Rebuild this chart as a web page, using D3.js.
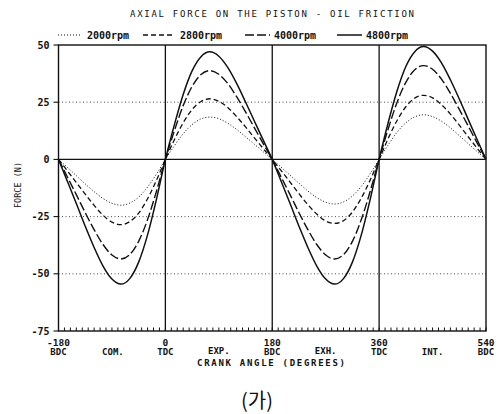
<!DOCTYPE html>
<html><head><meta charset="utf-8">
<script src="https://cdn.jsdelivr.net/npm/d3@7"></script>
<style>
body{margin:0;background:#fff;}
svg{display:block;}
text{fill:#111;}
</style></head>
<body>
<svg id="c" width="501" height="414"></svg>
<script>
// ---- data ----
const angles = d3.range(-180, 541, 15); // crank angle (deg) sample points
const rpm2000 = [0,-3.5,-7.1,-10.7,-14.1,-17.1,-19.2,-20.0,-19.1,-16.5,-12.1,-6.4,
  0,5.9,11.2,15.2,17.7,18.5,17.8,15.8,13.1,9.9,6.6,3.3,
  0,-3.4,-6.9,-10.4,-13.8,-16.7,-18.7,-19.5,-18.6,-16.0,-11.8,-6.2,
  0,6.2,11.8,16.0,18.6,19.5,18.7,16.7,13.8,10.4,6.9,3.4,0];
const rpm2800 = [0,-5.0,-10.1,-15.2,-20.1,-24.4,-27.4,-28.5,-27.2,-23.5,-17.2,-9.1,
  0,8.5,16.0,21.8,25.3,26.5,25.4,22.7,18.7,14.2,9.4,4.7,
  0,-4.9,-9.9,-15.0,-19.8,-23.9,-26.9,-28.0,-26.8,-23.0,-16.9,-9.0,
  0,9.0,16.9,23.0,26.8,28.0,26.9,23.9,19.8,15.0,9.9,4.9,0];
const rpm4000 = [0,-7.7,-15.4,-23.3,-30.7,-37.2,-41.8,-43.5,-41.6,-35.8,-26.3,-13.9,
  0,12.4,23.5,31.9,37.1,38.8,37.2,33.2,27.4,20.8,13.8,6.8,
  0,-7.7,-15.4,-23.3,-30.7,-37.2,-41.8,-43.5,-41.6,-35.8,-26.3,-13.9,
  0,13.1,24.8,33.7,39.2,41.0,39.4,35.1,28.9,21.9,14.6,7.2,0];
const rpm4800 = [0,-9.6,-19.3,-29.2,-38.5,-46.6,-52.3,-54.5,-52.1,-44.9,-33.0,-17.4,
  0,15.0,28.4,38.7,44.9,47.0,45.1,40.2,33.2,25.1,16.7,8.3,
  0,-9.6,-19.3,-29.2,-38.5,-46.6,-52.3,-54.5,-52.1,-44.9,-33.0,-17.4,
  0,15.8,29.8,40.6,47.1,49.3,47.3,42.2,34.8,26.4,17.5,8.7,0];
const seriesNames = ["2000rpm","2800rpm","4000rpm","4800rpm"];
const yTicks = [50,25,0,-25,-50,-75];
const xTicks = [-180,0,180,360,540];
const xTickSub = ["BDC","TDC","BDC","TDC","BDC"];
const strokeNames = [[-90,"COM."],[90,"EXP."],[270,"EXH."],[450,"INT."]];
const title = "AXIAL FORCE ON THE PISTON - OIL FRICTION";
const xTitle = "CRANK ANGLE (DEGREES)";
const yTitle = "FORCE (N)";
const caption = "(가)";

// ---- drawing ----
const svg = d3.select("#c");
const L = 58.5, R = 486, T = 45, B = 331;
const x = d3.scaleLinear().domain([-180,540]).range([L,R]);
const y = d3.scaleLinear().domain([-75,50]).range([B,T]);
const mono = "'DejaVu Sans Mono', 'Liberation Mono', monospace";

const styles = [
  {dash:"1,2", w:1},
  {dash:"5,3", w:1.3},
  {dash:"9,3", w:1.4},
  {dash:null, w:1.5}
];

// dotted grid lines
svg.selectAll("line.gy").data([25,-25,-50]).join("line")
  .attr("x1",L).attr("x2",R).attr("y1",d=>y(d)).attr("y2",d=>y(d))
  .attr("stroke","#222").attr("stroke-width",0.8).attr("stroke-dasharray","1,2.5");

// solid lines: zero line, vertical lines
svg.append("line").attr("x1",L).attr("x2",R).attr("y1",y(0)).attr("y2",y(0))
  .attr("stroke","#111").attr("stroke-width",1.3);
svg.selectAll("line.gx").data([0,180,360]).join("line")
  .attr("x1",d=>x(d)).attr("x2",d=>x(d)).attr("y1",T).attr("y2",B)
  .attr("stroke","#111").attr("stroke-width",1.3);

// frame
svg.append("rect").attr("x",L).attr("y",T).attr("width",R-L).attr("height",B-T)
  .attr("fill","none").attr("stroke","#111").attr("stroke-width",1.4);

// minor ticks on the bottom axis every 10 deg
svg.selectAll("line.mt").data(d3.range(-180,541,10)).join("line")
  .attr("x1",d=>x(d)).attr("x2",d=>x(d)).attr("y1",B).attr("y2",B-3.5)
  .attr("stroke","#111").attr("stroke-width",1);

// y axis ticks (outer)
svg.selectAll("line.yt").data(yTicks).join("line")
  .attr("x1",L-5).attr("x2",L).attr("y1",d=>y(d)).attr("y2",d=>y(d))
  .attr("stroke","#111").attr("stroke-width",1.1);
svg.selectAll("text.yl").data(yTicks).join("text")
  .attr("x",L-9).attr("y",d=>y(d)+3.5).attr("text-anchor","end")
  .attr("font-family",mono).attr("font-size",10).attr("font-weight","bold")
  .text(d=>d);

// y title
svg.append("text").attr("transform","translate(21,185) rotate(-90)")
  .attr("text-anchor","middle").attr("font-family",mono).attr("font-size",8.5)
  .text(yTitle);

// x tick labels
xTicks.forEach((v,i)=>{
  svg.append("text").attr("x",x(v)).attr("y",346).attr("text-anchor","middle")
    .attr("font-family",mono).attr("font-size",9.5).attr("font-weight","bold").text(v);
  svg.append("text").attr("x",x(v)).attr("y",355).attr("text-anchor","middle")
    .attr("font-family",mono).attr("font-size",9).attr("font-weight","bold").text(xTickSub[i]);
});
strokeNames.forEach(([v,t])=>{
  svg.append("text").attr("x",x(v)+(v===-90?1:0)).attr("y",v===-90||v===450?355:354).attr("text-anchor","middle")
    .attr("font-family",mono).attr("font-size",9).attr("font-weight","bold").text(t);
});
svg.append("text").attr("x",271).attr("y",366).attr("text-anchor","middle")
  .attr("font-family",mono).attr("font-size",9).attr("font-weight","bold")
  .attr("textLength",148).attr("lengthAdjust","spacing").text(xTitle);

// title
svg.append("text").attr("x",272).attr("y",17).attr("text-anchor","middle")
  .attr("font-family",mono).attr("font-size",9)
  .attr("textLength",284).attr("lengthAdjust","spacing").text(title);

// curves
const data = [rpm2000,rpm2800,rpm4000,rpm4800];
const line = d3.line().x((d,i)=>x(angles[i])).y(d=>y(d)).curve(d3.curveMonotoneX);
data.forEach((s,k)=>{
  svg.append("path").attr("d",line(s)).attr("fill","none")
    .attr("stroke","#111").attr("stroke-width",styles[k].w)
    .attr("stroke-dasharray",styles[k].dash);
});

// legend
const legX = [[58,82,87],[143,175,180],[245,270,274],[337,362,366]];
seriesNames.forEach((n,k)=>{
  svg.append("line").attr("x1",legX[k][0]).attr("x2",legX[k][1]).attr("y1",35).attr("y2",35)
    .attr("stroke","#111").attr("stroke-width",styles[k].w).attr("stroke-dasharray",styles[k].dash);
  svg.append("text").attr("x",legX[k][2]).attr("y",38.5)
    .attr("font-family",mono).attr("font-size",10).attr("font-weight","bold")
    .attr("textLength",42).attr("lengthAdjust","spacing").text(n);
});

// caption
svg.append("text").attr("x",257).attr("y",408).attr("text-anchor","middle")
  .attr("font-family","'Noto Sans CJK KR', sans-serif").attr("font-size",20)
  .text(caption);
</script>
</body></html>
